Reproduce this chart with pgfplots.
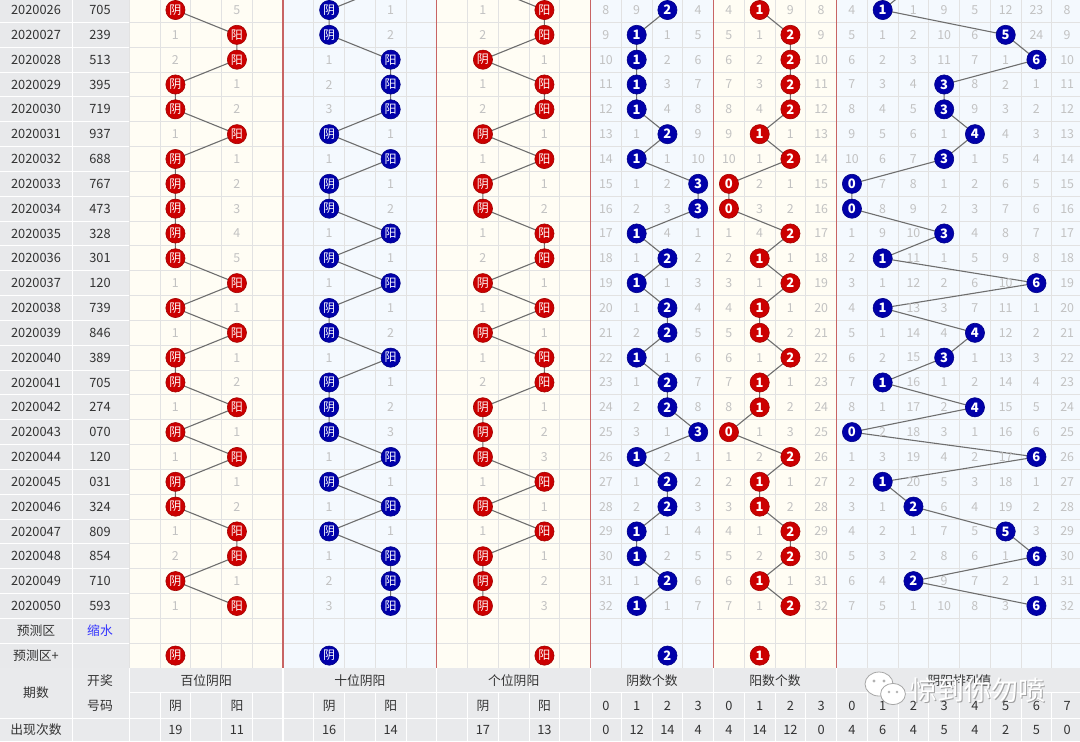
\documentclass[border=0pt]{standalone}
\usepackage{fontspec}
\setmainfont{Noto Sans CJK SC}
\usepackage{pgfplots}
\usepackage{pgfplotstable}
\pgfplotsset{compat=1.18}

\definecolor{redball}{HTML}{CC0000}
\definecolor{blueball}{HTML}{0000AA}
\definecolor{cream}{HTML}{FFFDF4}
\definecolor{lblue}{HTML}{F4F9FE}
\definecolor{lgray}{HTML}{E8E9EB}
\definecolor{fgray}{HTML}{E9EAEC}
\definecolor{gridc}{HTML}{E2E2E2}
\definecolor{sep}{HTML}{C86464}
\definecolor{omc}{HTML}{C2C2C2}
\definecolor{txt}{HTML}{333333}
\definecolor{linec}{HTML}{6E6E6E}

\newcommand\lfont{\fontsize{6.4}{7}\selectfont}
\newcommand\ofont{\fontsize{6.2}{7}\selectfont}
\newcommand\cfont{\fontsize{6}{6}\selectfont}
\newcommand\dfont{\fontsize{6.5}{7}\selectfont\bfseries}

% issues and draw numbers
\pgfplotstableread{
r iss num
0 2020026 705
1 2020027 239
2 2020028 513
3 2020029 395
4 2020030 719
5 2020031 937
6 2020032 688
7 2020033 767
8 2020034 473
9 2020035 328
10 2020036 301
11 2020037 120
12 2020038 739
13 2020039 846
14 2020040 389
15 2020041 705
16 2020042 274
17 2020043 070
18 2020044 120
19 2020045 031
20 2020046 324
21 2020047 809
22 2020048 854
23 2020049 710
24 2020050 593
}\issues

% hundreds
\pgfplotstableread{
r k lab
-1 1 阴
0 1 阴
1 3 阳
2 3 阳
3 1 阴
4 1 阴
5 3 阳
6 1 阴
7 1 阴
8 1 阴
9 1 阴
10 1 阴
11 3 阳
12 1 阴
13 3 阳
14 1 阴
15 1 阴
16 3 阳
17 1 阴
18 3 阳
19 1 阴
20 1 阴
21 3 阳
22 3 阳
23 1 阴
24 3 阳
}\bai

% tens
\pgfplotstableread{
r k lab
-1 8 阳
0 6 阴
1 6 阴
2 8 阳
3 8 阳
4 8 阳
5 6 阴
6 8 阳
7 6 阴
8 6 阴
9 8 阳
10 6 阴
11 8 阳
12 6 阴
13 6 阴
14 8 阳
15 6 阴
16 6 阴
17 6 阴
18 8 阳
19 6 阴
20 8 阳
21 6 阴
22 8 阳
23 8 阳
24 8 阳
}\shi

% units
\pgfplotstableread{
r k lab
-1 11 阴
0 13 阳
1 13 阳
2 11 阴
3 13 阳
4 13 阳
5 11 阴
6 13 阳
7 11 阴
8 11 阴
9 13 阳
10 13 阳
11 11 阴
12 13 阳
13 11 阴
14 13 阳
15 13 阳
16 11 阴
17 11 阴
18 11 阴
19 13 阳
20 11 阴
21 13 阳
22 11 阴
23 11 阴
24 11 阴
}\ge

% yin count, yang count, arrangement value
\pgfplotstableread{
r yin yang arr
-1 2 1 2
0 2 1 1
1 1 2 5
2 1 2 6
3 1 2 3
4 1 2 3
5 2 1 4
6 1 2 3
7 3 0 0
8 3 0 0
9 1 2 3
10 2 1 1
11 1 2 6
12 2 1 1
13 2 1 4
14 1 2 3
15 2 1 1
16 2 1 4
17 3 0 0
18 1 2 6
19 2 1 1
20 2 1 2
21 1 2 5
22 1 2 6
23 2 1 2
24 1 2 6
}\cnts

% omission values
\pgfplotstableread{
r c1 c3 c6 c8 c11 c13 c15 c16 c17 c18 c19 c20 c21 c22 c23 c24 c25 c26 c27 c28 c29 c30
0  {} 5  {} 1  1  {}  8  9  {} 4   4  {} 9  8    4  {} 1  9  5  12 23 8
1  1  {} {} 2  2  {}  9  {} 1  5   5  1  {} 9    5  1  2  10 6  {} 24 9
2  2  {} 1  {} {} 1   10 {} 2  6   6  2  {} 10   6  2  3  11 7  1  {} 10
3  {} 1  2  {} 1  {}  11 {} 3  7   7  3  {} 11   7  3  4  {} 8  2  1  11
4  {} 2  3  {} 2  {}  12 {} 4  8   8  4  {} 12   8  4  5  {} 9  3  2  12
5  1  {} {} 1  {} 1   13 1  {} 9   9  {} 1  13   9  5  6  1  {} 4  3  13
6  {} 1  1  {} 1  {}  14 {} 1  10  10 1  {} 14   10 6  7  {} 1  5  4  14
7  {} 2  {} 1  {} 1   15 1  2  {}  {} 2  1  15   {} 7  8  1  2  6  5  15
8  {} 3  {} 2  {} 2   16 2  3  {}  {} 3  2  16   {} 8  9  2  3  7  6  16
9  {} 4  1  {} 1  {}  17 {} 4  1   1  4  {} 17   1  9  10 {} 4  8  7  17
10 {} 5  {} 1  2  {}  18 1  {} 2   2  {} 1  18   2  {} 11 1  5  9  8  18
11 1  {} 1  {} {} 1   19 {} 1  3   3  1  {} 19   3  1  12 2  6  10 {} 19
12 {} 1  {} 1  1  {}  20 1  {} 4   4  {} 1  20   4  {} 13 3  7  11 1  20
13 1  {} {} 2  {} 1   21 2  {} 5   5  {} 2  21   5  1  14 4  {} 12 2  21
14 {} 1  1  {} 1  {}  22 {} 1  6   6  1  {} 22   6  2  15 {} 1  13 3  22
15 {} 2  {} 1  2  {}  23 1  {} 7   7  {} 1  23   7  {} 16 1  2  14 4  23
16 1  {} {} 2  {} 1   24 2  {} 8   8  {} 2  24   8  1  17 2  {} 15 5  24
17 {} 1  {} 3  {} 2   25 3  1  {}  {} 1  3  25   {} 2  18 3  1  16 6  25
18 1  {} 1  {} {} 3   26 {} 2  1   1  2  {} 26   1  3  19 4  2  17 {} 26
19 {} 1  {} 1  1  {}  27 1  {} 2   2  {} 1  27   2  {} 20 5  3  18 1  27
20 {} 2  1  {} {} 1   28 2  {} 3   3  {} 2  28   3  1  {} 6  4  19 2  28
21 1  {} {} 1  1  {}  29 {} 1  4   4  1  {} 29   4  2  1  7  5  {} 3  29
22 2  {} 1  {} {} 1   30 {} 2  5   5  2  {} 30   5  3  2  8  6  1  {} 30
23 {} 1  2  {} {} 2   31 1  {} 6   6  {} 1  31   6  4  {} 9  7  2  1  31
24 1  {} 3  {} {} 3   32 {} 1  7   7  1  {} 32   7  5  1  10 8  3  {} 32
}\omtab

% prediction row
\pgfplotstableread{
r k lab
26 1 阴
26 13 阳
}\predRc
\pgfplotstableread{
r k lab
26 6 阴
}\predBc
\pgfplotstableread{
r k lab
26 20 1
}\predRd
\pgfplotstableread{
r k lab
26 17 2
}\predBd

% footer sub headers and totals
\pgfplotstableread{
k lab tot
1 阴 19
3 阳 11
6 阴 16
8 阳 14
11 阴 17
13 阳 13
15 0 0
16 1 12
17 2 14
18 3 4
19 0 4
20 1 14
21 2 12
22 3 0
23 0 4
24 1 6
25 2 4
26 3 5
27 4 4
28 5 2
29 6 5
30 7 0
}\foot

\pgfplotsset{
  trendR/.style={color=linec, line width=0.55pt, mark=*, mark size=4.8pt,
    mark options={solid, fill=redball, draw=redball!80!black, line width=0.3pt},
    nodes near coords, point meta=explicit symbolic,
    every node near coord/.append style={anchor=center, inner sep=0pt, text=white, font=#1}},
  trendB/.style={color=linec, line width=0.55pt, mark=*, mark size=4.8pt,
    mark options={solid, fill=blueball, draw=blueball!80!black, line width=0.3pt},
    nodes near coords, point meta=explicit symbolic,
    every node near coord/.append style={anchor=center, inner sep=0pt, text=white, font=#1}},
  labs/.style={draw=none, mark=none, nodes near coords, point meta=explicit symbolic,
    every node near coord/.append style={anchor=center, inner sep=0pt, #1}},
}

\begin{document}
\begin{tikzpicture}
\begin{axis}[at={(0,0)}, anchor=north west, width=540pt, height=370.5pt, scale only axis,
  xmin=0, xmax=1080, ymin=0, ymax=741, y dir=reverse, hide axis, clip=true]

% backgrounds
\fill[lgray] (0,0) rectangle (129.3,668.3);
\fill[cream] (129.3,0) rectangle (283.05,668.3);
\fill[lblue] (283.05,0) rectangle (436.8,668.3);
\fill[cream] (436.8,0) rectangle (590.55,668.3);
\fill[lblue] (590.55,0) rectangle (713.55,668.3);
\fill[cream] (713.55,0) rectangle (836.55,668.3);
\fill[lblue] (836.55,0) rectangle (1080,668.3);
\fill[fgray] (0,668.3) rectangle (1080,741);

% grid
\pgfplotsinvokeforeach{0,...,25}{
  \draw[gridc, line width=0.5pt] (129.3,{22.415+#1*24.83}) -- (1080,{22.415+#1*24.83});
  \draw[white, line width=0.5pt] (0,{22.415+#1*24.83}) -- (129.3,{22.415+#1*24.83});
}
\pgfplotsinvokeforeach{1,...,30}{
  \draw[gridc, line width=0.5pt] ({129.3+#1*30.75},0) -- ({129.3+#1*30.75},668.3);
  \draw[white, line width=0.5pt] ({129.3+#1*30.75},692.7) -- ({129.3+#1*30.75},741);
}
\draw[gridc, line width=0.5pt] (129.3,0) -- (129.3,668.3);
\draw[white, line width=0.5pt] (72.3,0) -- (72.3,741);
\draw[white, line width=0.5pt] (129.3,668.3) -- (129.3,741);
\pgfplotsinvokeforeach{5,10,15,19,23}{
  \draw[sep, line width=0.6pt] ({129.3+#1*30.75},0) -- ({129.3+#1*30.75},668.3);
  \draw[white, line width=0.6pt] ({129.3+#1*30.75},668.3) -- ({129.3+#1*30.75},741);
}
\draw[white, line width=0.6pt] (129.3,692.7) -- (1080,692.7);
\draw[white, line width=0.6pt] (0,718.3) -- (1080,718.3);

% left columns
\addplot[labs={text=txt, font=\lfont}] table[x expr=36, y expr={10+\thisrow{r}*24.83}, meta=iss]{\issues};
\addplot[labs={text=txt, font=\lfont}] table[x expr=100, y expr={10+\thisrow{r}*24.83}, meta=num]{\issues};
\node[text=txt, font=\lfont] at (36,630.75) {预测区};
\node[text=blue!80!white, font=\lfont] at (100,630.75) {缩水};
\node[text=txt, font=\lfont] at (36,655.6) {预测区+};

% omission numbers
\pgfplotsinvokeforeach{1,3,6,8,11,13,15,16,17,18,19,20,21,22,23,24,25,26,27,28,29,30}{
  \addplot[labs={text=omc, font=\ofont}] table[x expr={129.3+(#1+0.5)*30.75}, y expr={10+\thisrow{r}*24.83}, meta=c#1]{\omtab};
}

% trend series
\addplot[trendR=\cfont] table[x expr={129.3+(\thisrow{k}+0.5)*30.75}, y expr={10+\thisrow{r}*24.83}, meta=lab]{\bai};
\addplot[trendB=\cfont] table[x expr={129.3+(\thisrow{k}+0.5)*30.75}, y expr={10+\thisrow{r}*24.83}, meta=lab]{\shi};
\addplot[trendR=\cfont] table[x expr={129.3+(\thisrow{k}+0.5)*30.75}, y expr={10+\thisrow{r}*24.83}, meta=lab]{\ge};
\addplot[trendB=\dfont] table[x expr={129.3+(15+\thisrow{yin}+0.5)*30.75}, y expr={10+\thisrow{r}*24.83}, meta=yin]{\cnts};
\addplot[trendR=\dfont] table[x expr={129.3+(19+\thisrow{yang}+0.5)*30.75}, y expr={10+\thisrow{r}*24.83}, meta=yang]{\cnts};
\addplot[trendB=\dfont] table[x expr={129.3+(23+\thisrow{arr}+0.5)*30.75}, y expr={10+\thisrow{r}*24.83}, meta=arr]{\cnts};

% prediction row
\addplot[trendR=\cfont, only marks] table[x expr={129.3+(\thisrow{k}+0.5)*30.75}, y expr={10+\thisrow{r}*24.83}, meta=lab]{\predRc};
\addplot[trendB=\cfont, only marks] table[x expr={129.3+(\thisrow{k}+0.5)*30.75}, y expr={10+\thisrow{r}*24.83}, meta=lab]{\predBc};
\addplot[trendR=\dfont, only marks] table[x expr={129.3+(\thisrow{k}+0.5)*30.75}, y expr={10+\thisrow{r}*24.83}, meta=lab]{\predRd};
\addplot[trendB=\dfont, only marks] table[x expr={129.3+(\thisrow{k}+0.5)*30.75}, y expr={10+\thisrow{r}*24.83}, meta=lab]{\predBd};

% footer
\node[text=txt, font=\lfont] at (36,693) {期数};
\node[text=txt, font=\lfont] at (100,681) {开奖};
\node[text=txt, font=\lfont] at (100,705.5) {号码};
\node[text=txt, font=\lfont] at (36,730) {出现次数};
\node[text=txt, font=\lfont] at (206.2,681) {百位阴阳};
\node[text=txt, font=\lfont] at (359.9,681) {十位阴阳};
\node[text=txt, font=\lfont] at (513.7,681) {个位阴阳};
\node[text=txt, font=\lfont] at (652,681) {阴数个数};
\node[text=txt, font=\lfont] at (775,681) {阳数个数};
\node[text=txt, font=\lfont] at (959.5,681) {阴阳排列值};
\addplot[labs={text=txt, font=\lfont}] table[x expr={129.3+(\thisrow{k}+0.5)*30.75}, y expr=705.5, meta=lab]{\foot};
\addplot[labs={text=txt, font=\lfont}] table[x expr={129.3+(\thisrow{k}+0.5)*30.75}, y expr=730, meta=tot]{\foot};

% watermark
\fill[white, draw=gray!70, line width=0.4pt] (879,684) ellipse [x radius=7pt, y radius=6pt];
\fill[white, draw=gray!70, line width=0.4pt] (893,694) ellipse [x radius=6.2pt, y radius=5.3pt];
\fill[gray!60] (874,681) circle [radius=0.8pt];
\fill[gray!60] (884,681) circle [radius=0.8pt];
\fill[gray!60] (889,692) circle [radius=0.7pt];
\fill[gray!60] (897,692) circle [radius=0.7pt];
\node[text=black!55, font=\fontsize{13.5}{15}\selectfont, opacity=0.6] at (979.3,691.3) {惊到你勿喷};
\node[text=white, font=\fontsize{13.5}{15}\selectfont] at (978,690) {惊到你勿喷};

\coordinate (BL) at (0,741);
\coordinate (TR) at (1080,0);
\end{axis}
\pgfresetboundingbox
\useasboundingbox (BL) rectangle (TR);
\end{tikzpicture}
\end{document}
